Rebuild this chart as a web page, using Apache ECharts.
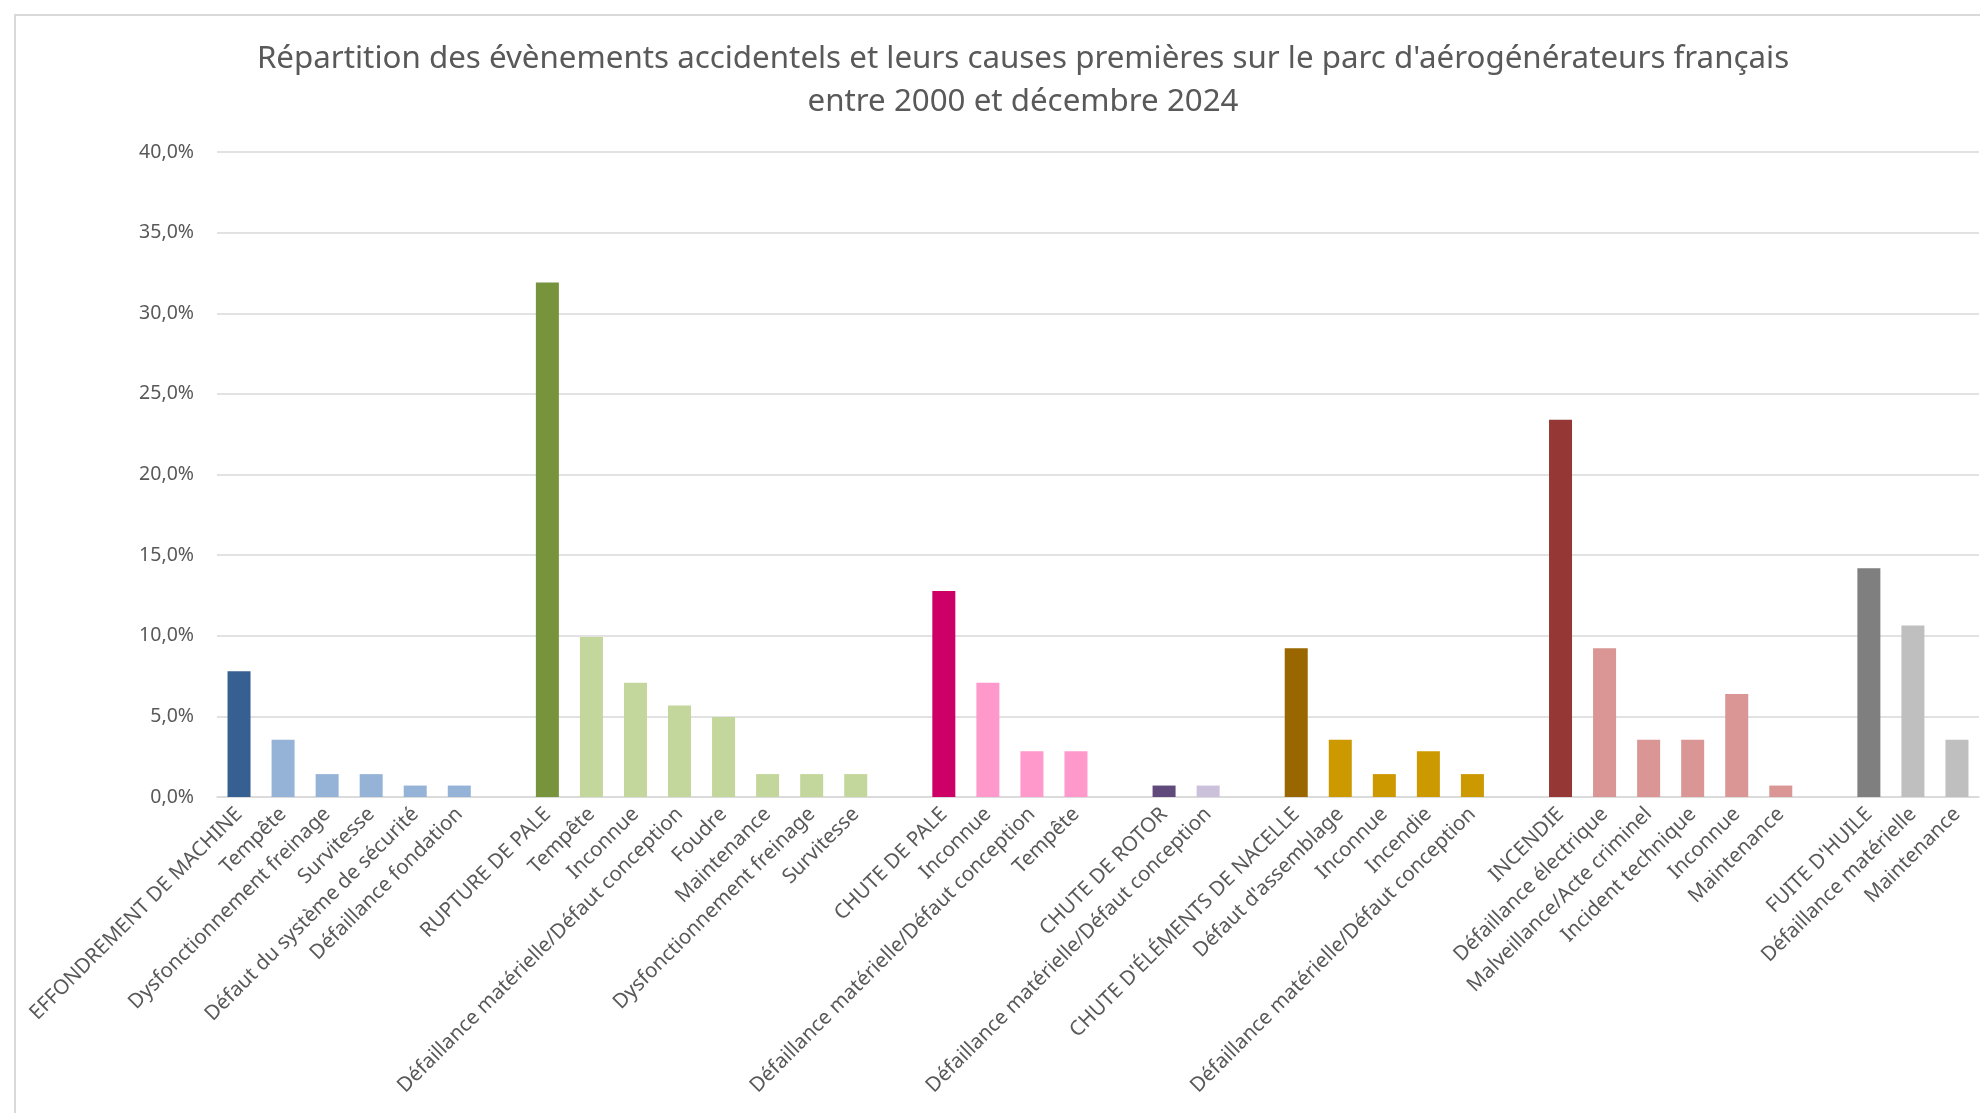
<!DOCTYPE html>
<html>
<head>
<meta charset="utf-8">
<script src="https://cdn.jsdelivr.net/npm/echarts@6/dist/echarts.min.js"></script>
<style>
html,body{margin:0;padding:0;background:#fff;}
#chart{width:1980px;height:1113px;}
</style>
</head>
<body>
<div id="chart"></div>
<script>
// --- Data (percent of events) ---
const catEffondrement = ['EFFONDREMENT DE MACHINE','Tempête','Dysfonctionnement freinage','Survitesse','Défaut du système de sécurité','Défaillance fondation'];
const valEffondrement = [7.80, 3.55, 1.42, 1.42, 0.71, 0.71];

const catRupture = ['RUPTURE DE PALE','Tempête','Inconnue','Défaillance matérielle/Défaut conception','Foudre','Maintenance','Dysfonctionnement freinage','Survitesse'];
const valRupture = [31.91, 9.93, 7.09, 5.67, 4.96, 1.42, 1.42, 1.42];

const catChutePale = ['CHUTE DE PALE','Inconnue','Défaillance matérielle/Défaut conception','Tempête'];
const valChutePale = [12.77, 7.09, 2.84, 2.84];

const catChuteRotor = ['CHUTE DE ROTOR','Défaillance matérielle/Défaut conception'];
const valChuteRotor = [0.71, 0.71];

const catNacelle = ["CHUTE D'ÉLÉMENTS DE NACELLE","Défaut d'assemblage",'Inconnue','Incendie','Défaillance matérielle/Défaut conception'];
const valNacelle = [9.22, 3.55, 1.42, 2.84, 1.42];

const catIncendie = ['INCENDIE','Défaillance électrique','Malveillance/Acte criminel','Incident technique','Inconnue','Maintenance'];
const valIncendie = [23.40, 9.22, 3.55, 3.55, 6.38, 0.71];

const catFuite = ["FUITE D'HUILE",'Défaillance matérielle','Maintenance'];
const valFuite = [14.18, 10.64, 3.55];

const yTicks = [0,5,10,15,20,25,30,35,40];

// colours: [main event, causes]
const colEffondrement = ['#376092','#95B3D7'];
const colRupture = ['#77933C','#C3D69B'];
const colChutePale = ['#CC0066','#FF99CC'];
const colChuteRotor = ['#604A7B','#CCC1DA'];
const colNacelle = ['#996600','#CC9900'];
const colIncendie = ['#953735','#D99694'];
const colFuite = ['#7F7F7F','#BFBFBF'];

const groupList = [
  [catEffondrement, valEffondrement, colEffondrement],
  [catRupture, valRupture, colRupture],
  [catChutePale, valChutePale, colChutePale],
  [catChuteRotor, valChuteRotor, colChuteRotor],
  [catNacelle, valNacelle, colNacelle],
  [catIncendie, valIncendie, colIncendie],
  [catFuite, valFuite, colFuite]
];

const categories = [];
const seriesData = [];
groupList.forEach((g, gi) => {
  if (gi > 0) { categories.push(''); seriesData.push(null); }
  g[0].forEach((c, i) => {
    categories.push(c);
    seriesData.push({ value: g[1][i], itemStyle: { color: i === 0 ? g[2][0] : g[2][1] } });
  });
});

const FONT = '"Noto Sans", "Open Sans", sans-serif';
const chart = echarts.init(document.getElementById('chart'), null, { renderer: 'canvas' });
chart.setOption({
  animation: false,
  backgroundColor: '#ffffff',
  title: {
    text: "Répartition des évènements accidentels et leurs causes premières sur le parc d'aérogénérateurs français\nentre 2000 et décembre 2024",
    left: 1018,
    textAlign: 'center',
    top: 33,
    textStyle: { fontFamily: FONT, fontSize: 31.3, fontWeight: 'normal', color: '#595959', lineHeight: 43 }
  },
  graphic: [{
    type: 'rect',
    shape: { x: 15, y: 15, width: 2100, height: 1200 },
    style: { fill: null, stroke: '#D9D9D9', lineWidth: 2 },
    silent: true, z: -10
  }],
  grid: { left: 217, right: 1, top: 152, bottom: 316, containLabel: false },
  xAxis: {
    type: 'category',
    data: categories,
    axisTick: { show: false },
    axisLine: { show: true, lineStyle: { color: '#D9D9D9', width: 1.5 } },
    axisLabel: {
      interval: 0,
      rotate: 45,
      margin: 14,
      color: '#595959',
      fontFamily: FONT,
      fontSize: 20.5
    }
  },
  yAxis: {
    type: 'value',
    min: yTicks[0],
    max: yTicks[yTicks.length - 1],
    interval: yTicks[1] - yTicks[0],
    axisLine: { show: false },
    axisTick: { show: false },
    splitLine: { lineStyle: { color: '#D9D9D9', width: 1.5 } },
    axisLabel: {
      margin: 23,
      color: '#595959',
      fontFamily: FONT,
      fontSize: 19.5,
      formatter: v => v.toFixed(1).replace('.', ',') + '%'
    }
  },
  series: [{
    type: 'bar',
    data: seriesData,
    barWidth: 23
  }]
});
</script>
</body>
</html>
